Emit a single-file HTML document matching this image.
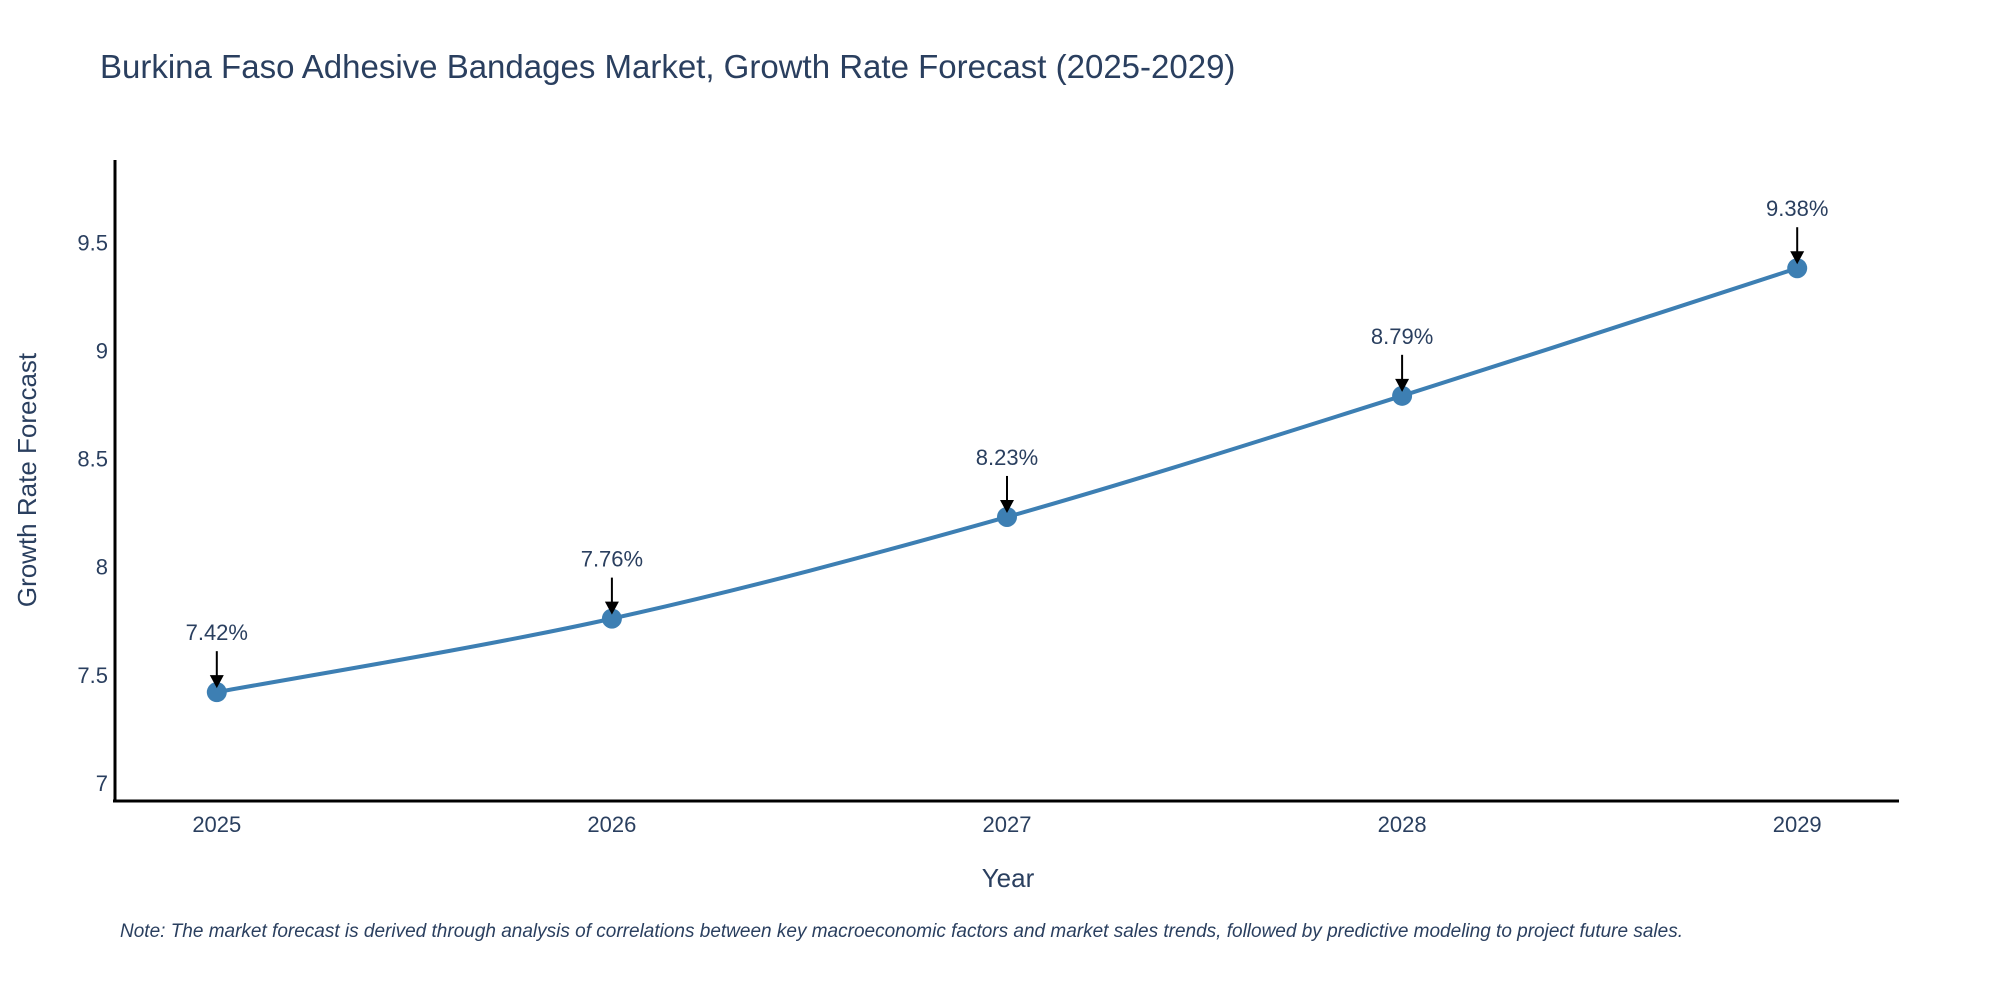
<!DOCTYPE html>
<html><head><meta charset="utf-8"><style>
html,body{margin:0;padding:0;background:#fff;}
svg{display:block;font-family:"Liberation Sans",sans-serif;}
</style></head><body>
<svg id="chart" width="2000" height="1000" viewBox="0 0 2000 1000">
<text x="100" y="78" font-size="33" fill="#2a3f5f">Burkina Faso Adhesive Bandages Market, Growth Rate Forecast (2025-2029)</text>
<g id="yticks"></g><g id="xticks"></g>
<line x1="115" y1="160" x2="115" y2="802" stroke="#000" stroke-width="3"/>
<line x1="113" y1="801" x2="1899" y2="801" stroke="#000" stroke-width="3"/>
<path id="line" fill="none" stroke="#3d7fb3" stroke-width="4"/>
<g id="marks"></g>
<text x="1008" y="887" font-size="26" fill="#2a3f5f" text-anchor="middle">Year</text>
<text transform="translate(36,480) rotate(-90)" font-size="26" fill="#2a3f5f" text-anchor="middle">Growth Rate Forecast</text>
<text x="120" y="937" font-size="19" font-style="italic" fill="#2a3f5f">Note: The market forecast is derived through analysis of correlations between key macroeconomic factors and market sales trends, followed by predictive modeling to project future sales.</text>
</svg>
<script>
const years = [2025, 2026, 2027, 2028, 2029];
const rates = [7.42, 7.76, 8.23, 8.79, 9.38];
const yTicks = [7, 7.5, 8, 8.5, 9, 9.5];
const yTickLabels = ["7", "7.5", "8", "8.5", "9", "9.5"];
const NS = "http://www.w3.org/2000/svg";
function xs(v){return 216.8 + (v-2025)*395.1;}
function ys(v){return 783 - (v-7)*216.3;}
function mk(tag, attrs, parent){const e=document.createElementNS(NS,tag);for(const k in attrs)e.setAttribute(k,attrs[k]);parent.appendChild(e);return e;}
const yg=document.getElementById('yticks'), xg=document.getElementById('xticks'), mg=document.getElementById('marks');
yTicks.forEach((t,i)=>{
  const e=mk('text',{x:108,y:ys(t)+8,'font-size':22,fill:'#2a3f5f','text-anchor':'end'},yg);
  
  
  e.textContent=yTickLabels[i];
});
years.forEach(y=>{
  const e=mk('text',{x:xs(y),y:832,'font-size':22,fill:'#2a3f5f','text-anchor':'middle'},xg);
  
  
  e.textContent=String(y);
});
const pts=years.map((y,i)=>[xs(y),ys(rates[i])]);
let d='M'+pts[0][0]+','+pts[0][1];
for(let i=0;i<pts.length-1;i++){
  const p0=pts[Math.max(0,i-1)],p1=pts[i],p2=pts[i+1],p3=pts[Math.min(pts.length-1,i+2)];
  const c1=[p1[0]+(p2[0]-p0[0])/6,p1[1]+(p2[1]-p0[1])/6];
  const c2=[p2[0]-(p3[0]-p1[0])/6,p2[1]-(p3[1]-p1[1])/6];
  d+=' C'+c1+' '+c2+' '+p2;
}
document.getElementById('line').setAttribute('d',d);
pts.forEach((p,i)=>{
  const c=mk('circle',{cx:p[0],cy:p[1],r:10,fill:'#3d7fb3'},mg);
  
  
  const l=mk('line',{x1:p[0],y1:p[1]-41,x2:p[0],y2:p[1]-16,stroke:'#000','stroke-width':2},mg);
  
  
  const h=mk('polygon',{points:(p[0]-7)+','+(p[1]-17)+' '+(p[0]+7)+','+(p[1]-17)+' '+p[0]+','+(p[1]-4),fill:'#000'},mg);
  
  
  const t=mk('text',{x:p[0],y:p[1]-52,'font-size':22,fill:'#2a3f5f','text-anchor':'middle'},mg);
  
  
  t.textContent=rates[i].toFixed(2)+'%';
});
</script>
</body></html>
